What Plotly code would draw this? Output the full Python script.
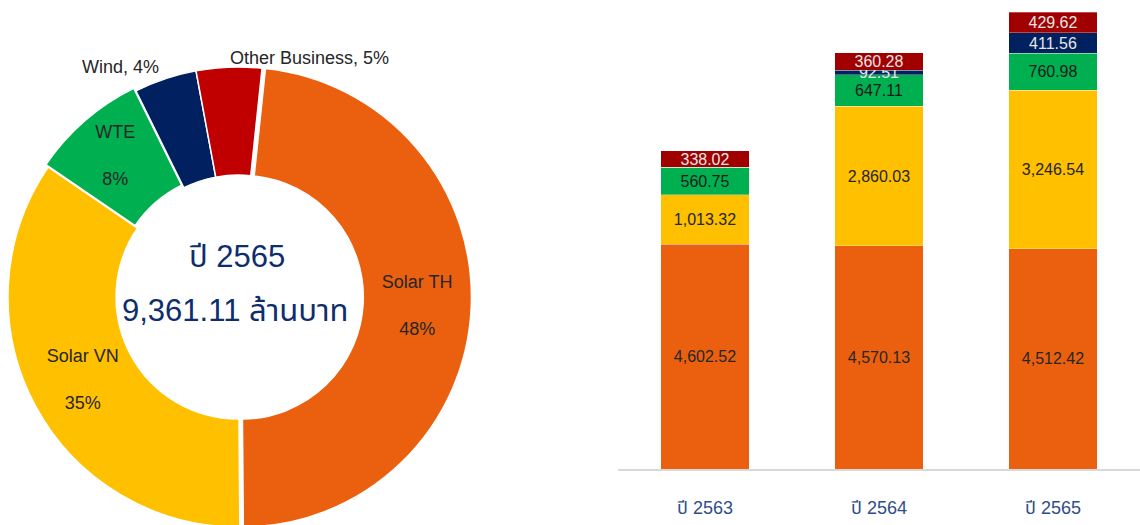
import plotly.graph_objects as go

# Donut data (ปี 2565)
pie_labels = ["Solar TH", "Solar VN", "WTE", "Wind", "Other Business"]
pie_values = [4512.42, 3246.54, 760.98, 411.56, 429.62]
pie_colors = ["#EA600E", "#FFC000", "#00B050", "#002060", "#C00000"]
outside_labels = ["Wind, 4%", "Other Business, 5%"]

# Stacked bars
years = ["ปี 2563", "ปี 2564", "ปี 2565"]
solar_th = [4602.52, 4570.13, 4512.42]
solar_vn = [1013.32, 2860.03, 3246.54]
wte = [560.75, 647.11, 760.98]
wind = [0.0, 92.51, 411.56]
other = [338.02, 360.28, 429.62]

center_year = "ปี 2565"
center_total = "9,361.11 ล้านบาท"

FONT = "Liberation Sans, Arial, Noto Sans Thai, sans-serif"
W, H = 1140, 540  # page viewport shows the top 525 px; donut bottom runs past the edge


def fy(py):
    return 1 - py / H


PULL = 0.015
R = 230 * (1 + PULL)
CX, CY = 238, 297

fig = go.Figure()

fig.add_trace(go.Pie(
    labels=pie_labels, values=pie_values, sort=False, direction="clockwise",
    rotation=6, hole=0.53,
    marker=dict(colors=pie_colors, line=dict(color="white", width=1.5)),
    pull=[PULL, 0, PULL, 0, 0],
    texttemplate=["%{label}<br> <br>%{percent:.0%}", "%{label}<br> <br>%{percent:.0%}",
                  "%{label}<br> <br>%{percent:.0%}", "", ""],
    textposition="inside",
    insidetextorientation="horizontal",
    textfont=dict(family=FONT, size=18, color="#262626"),
    domain=dict(x=[(CX - R) / W, (CX + R) / W], y=[fy(CY + R), fy(CY - R)]),
    showlegend=False, hoverinfo="label+value+percent",
))

series = [
    ("Solar TH", solar_th, "#EA600E", "#262626"),
    ("Solar VN", solar_vn, "#FFC000", "#262626"),
    ("WTE", wte, "#00B050", "#1a1a1a"),
    ("Wind", wind, "#002060", "#E6E6E6"),
    ("Other Business", other, "#A00000", "#E6E6E6"),
]
for name, vals, col, tcol in series:
    fig.add_trace(go.Bar(
        x=years, y=vals, name=name,
        marker=dict(color=col, line=dict(color="rgba(255,255,255,0.5)", width=0.6)),
        text=[("" if v == 0 else f"{v:,.2f}") for v in vals],
        textposition="inside", insidetextanchor="middle", textangle=0,
        textfont=dict(family=FONT, size=16, color=tcol),
        showlegend=False,
    ))

fig.update_layout(
    width=W, height=H, barmode="stack", bargap=0.49,
    margin=dict(l=0, r=0, t=0, b=0, autoexpand=False),
    paper_bgcolor="white", plot_bgcolor="white",
    uniformtext=dict(minsize=16, mode="show"),
    font=dict(family=FONT),
    xaxis=dict(domain=[618 / W, 1], range=[-0.5, 2.5], automargin=False,
               showline=True, linecolor="#D9D9D9", linewidth=2,
               ticks="outside", ticklen=21, tickcolor="rgba(0,0,0,0)",
               tickfont=dict(family=FONT, size=18, color="#2E4D8A"), showgrid=False),
    yaxis=dict(domain=[fy(469), 1], range=[0, 9607], visible=False, automargin=False),
    annotations=[
        dict(text=center_year, x=237 / W, y=fy(257), xref="paper", yref="paper",
             xanchor="center", yanchor="middle",
             showarrow=False, font=dict(family=FONT, size=31, color="#0E2D6D")),
        dict(text=center_total, x=235 / W, y=fy(310), xref="paper", yref="paper",
             xanchor="center", yanchor="middle",
             showarrow=False, font=dict(family=FONT, size=31, color="#0E2D6D")),
        dict(text=outside_labels[0], x=161 / W, y=fy(67), xref="paper", yref="paper",
             xanchor="right", yanchor="middle",
             showarrow=False, font=dict(family=FONT, size=18, color="#262626")),
        dict(text=outside_labels[1], x=228 / W, y=fy(58), xref="paper", yref="paper",
             xanchor="left", yanchor="middle",
             showarrow=False, font=dict(family=FONT, size=18, color="#262626")),
    ],
)

fig.write_html("out.html", config={"displayModeBar": False},
               post_script="document.body.style.margin='0';document.body.style.overflow='hidden';")
